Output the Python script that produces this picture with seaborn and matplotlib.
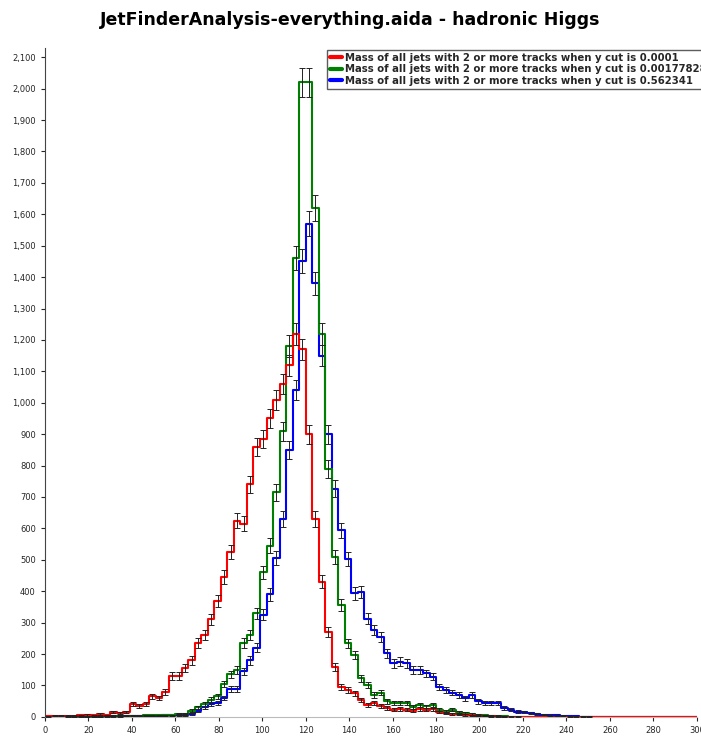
import numpy as np
import pandas as pd
import matplotlib
matplotlib.use("Agg")
import matplotlib.pyplot as plt
import seaborn as sns
from matplotlib.ticker import FuncFormatter, MultipleLocator

bin_edges = list(range(0, 301, 3))
red_counts = [2,3,3,4,4,5,6,5,8,5,15,12,15,
              40,35,40,65,60,80,130,130,155,180,235,260,310,370,445,525,625,615,740,860,885,950,1010,1060,1120,1220,1170,900,630,430,270,160,96,86,75,54,38,45,35,28,22,25,22,20,25,22,24,15,12,10,8,6,5,4,3,2,1,1]
green_counts = [0,0,0,1,1,1,2,2,2,3,3,3,4,4,4,5,5,5,5,
                5,10,10,20,30,40,55,65,105,135,150,235,260,330,460,545,715,910,1180,1460,2020,2020,1620,1220,790,510,355,234,197,123,102,70,77,49,43,43,43,31,38,33,38,22,17,22,14,12,8,6,5,4,3,2,1,1]
blue_counts = [0,0,0,0,1,1,1,1,2,2,2,2,3,3,3,3,4,4,5,5,6,6,
               10,20,30,40,45,60,90,90,145,180,220,325,390,505,630,850,1040,1450,1570,1380,1150,900,726,594,504,393,398,313,276,255,202,170,176,170,149,149,139,128,96,86,77,70,59,70,49,43,45,43,28,22,17,15,12,10,7,6,5,3,2,2,1,1]
labels = ["Mass of all jets with 2 or more tracks when y cut is 0.0001",
          "Mass of all jets with 2 or more tracks when y cut is 0.00177828",
          "Mass of all jets with 2 or more tracks when y cut is 0.562341"]
colors = ["#ff0000", "#008000", "#0000ff"]

nb = len(bin_edges) - 1
centers = [(bin_edges[i] + bin_edges[i+1]) / 2 for i in range(nb)]
rows = []
for lab, cnt in zip(labels, [red_counts, green_counts, blue_counts]):
    c = list(cnt) + [0] * (nb - len(cnt))
    for x, w in zip(centers, c):
        rows.append({"mass": x, "w": w, "series": lab})
df = pd.DataFrame(rows)

sns.set_style("white")
fig = plt.figure(figsize=(7.01, 7.36), dpi=100)
ax = fig.add_axes([0.064, 0.026, 0.93, 0.909])
sns.histplot(data=df, x="mass", weights="w", hue="series", bins=bin_edges,
             element="step", fill=False, palette=dict(zip(labels, colors)),
             linewidth=1.5, ax=ax, legend=False)
for lab, cnt in zip(labels, [red_counts, green_counts, blue_counts]):
    c = np.array(list(cnt) + [0] * (nb - len(cnt)), dtype=float)
    m = c > 0
    ax.errorbar(np.array(centers)[m], c[m], yerr=np.sqrt(c[m]), fmt="none",
                ecolor="#222222", elinewidth=0.7, capsize=2, capthick=0.7, zorder=3)

ax.set_xlim(0, 300)
ax.set_ylim(0, 2130)
ax.xaxis.set_major_locator(MultipleLocator(20))
ax.yaxis.set_major_locator(MultipleLocator(100))
ax.yaxis.set_major_formatter(FuncFormatter(lambda v, p: f"{int(v):,}"))
ax.tick_params(labelsize=6, length=3, direction="out", left=True, bottom=True)
ax.set_xlabel("")
ax.set_ylabel("")
for s in ["top", "right"]:
    ax.spines[s].set_visible(False)
ax.spines["bottom"].set_color("#bbbbbb")
ax.spines["left"].set_color("#444444")
handles = [plt.Line2D([], [], color=c, lw=3) for c in colors]
leg = ax.legend(handles, labels, loc="upper left", bbox_to_anchor=(0.425, 1.005),
                fontsize=7.3, frameon=True, fancybox=False, handlelength=1.2,
                borderpad=0.3, labelspacing=0.15, handletextpad=0.3)
leg.get_frame().set_edgecolor("#333333")
for t in leg.get_texts():
    t.set_fontweight("bold")
fig.suptitle("JetFinderAnalysis-everything.aida - hadronic Higgs", fontsize=12.5,
             fontweight="bold", y=0.985, color="black")
fig.savefig("out.png", dpi=100)
